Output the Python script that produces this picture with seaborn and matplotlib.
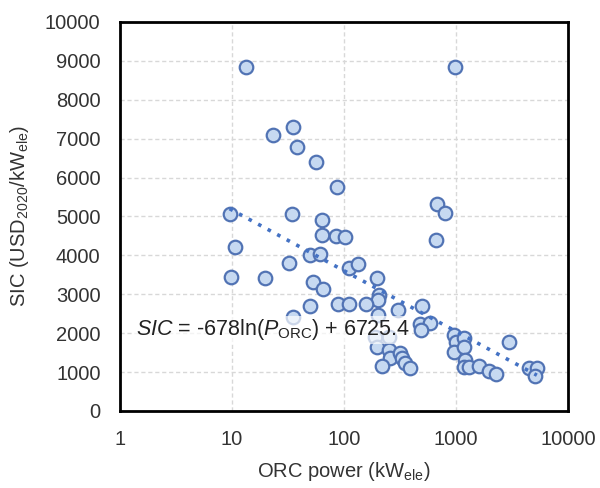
import numpy as np
import pandas as pd
import seaborn as sns
import matplotlib.pyplot as plt
from matplotlib.ticker import FixedLocator, NullLocator

# ORC power (kW_ele) and specific investment cost (USD2020/kW_ele)
orc_power = [13.2, 980, 23, 35, 38, 56, 87, 680, 800, 9.5,
             34.5, 63, 665, 63, 85, 101, 10.6, 50, 61, 32,
             110, 134, 9.8, 19.7, 52.6, 64.6, 196, 205, 200, 200,
             50, 35, 89, 110, 158, 300, 500, 480, 580, 485,
             190, 250, 960, 990, 960, 1180, 1180, 1200, 1170, 1290,
             1585, 1970, 2270, 2990, 4450, 5250, 5060, 197, 250, 259,
             218, 318, 329, 352, 385]
sic = [8850, 8850, 7100, 7300, 6780, 6400, 5750, 5330, 5090, 5050,
       5050, 4900, 4400, 4530, 4500, 4460, 4220, 4020, 4040, 3790,
       3680, 3780, 3430, 3420, 3310, 3130, 3420, 2990, 2860, 2470,
       2690, 2410, 2750, 2750, 2750, 2600, 2700, 2240, 2270, 2080,
       1910, 1910, 1950, 1780, 1520, 1870, 1655, 1310, 1140, 1140,
       1150, 1030, 940, 1760, 1100, 1100, 890, 1655, 1570, 1356,
       1165, 1485, 1356, 1227, 1098]

# Log trendline from the chart: SIC = -678 ln(P) + 6725.4
slope = -678
intercept = 6725.4

x_ticks = [1, 10, 100, 1000, 10000]
y_ticks = list(range(0, 10001, 1000))

df = pd.DataFrame({'power': orc_power, 'sic': sic})

sns.set_style('white')
plt.rcParams['font.family'] = ['Liberation Sans', 'DejaVu Sans']
plt.rcParams['mathtext.fontset'] = 'custom'
plt.rcParams['mathtext.rm'] = 'Liberation Sans'
plt.rcParams['mathtext.it'] = 'Liberation Sans:italic'

fig = plt.figure(figsize=(6, 4.88), dpi=100)
ax = fig.add_axes([0.2, 0.158, 0.747, 0.797])

sns.scatterplot(data=df, x='power', y='sic', ax=ax, s=95,
                color='#C6D9F1', edgecolor='#5173B4', linewidth=1.6,
                zorder=3, legend=False)

# trendline across the data range
xs = np.logspace(np.log10(df.power.min()), np.log10(df.power.max()), 100)
ax.plot(xs, slope * np.log(xs) + intercept, color='#4472C4',
        linestyle=(0, (1, 2)), linewidth=2.6, zorder=4)

ax.set_xscale('log')
ax.set_xlim(1, 10000)
ax.set_ylim(0, 10000)
ax.xaxis.set_major_locator(FixedLocator(x_ticks))
ax.xaxis.set_minor_locator(NullLocator())
ax.set_xticklabels([str(t) for t in x_ticks])
ax.set_yticks(y_ticks)
ax.tick_params(axis='both', length=0, labelsize=14.5, colors='#333333')
ax.tick_params(axis='y', pad=14)
ax.tick_params(axis='x', pad=14)

ax.grid(True, color='#D8D8D8', linestyle=(0, (3, 2)), linewidth=1.0, zorder=0)
ax.set_axisbelow(True)
for sp in ax.spines.values():
    sp.set_color('black')
    sp.set_linewidth(2)

ax.set_xlabel('ORC power (kW$_{\\mathrm{ele}}$)', fontsize=14.5, color='#333333', labelpad=8)
ax.set_ylabel('SIC (USD$_{\\mathrm{2020}}$/kW$_{\\mathrm{ele}}$)', fontsize=14.5, color='#333333', labelpad=10)

ax.text(1.38, 2080, '$SIC$ = -678ln($P_{\\mathrm{ORC}}$) + 6725.4', fontsize=15.5,
        va='center', ha='left', color='#222222', zorder=5,
        bbox=dict(facecolor='white', edgecolor='none', alpha=0.7, pad=1))

fig.savefig('out.png', dpi=100)
